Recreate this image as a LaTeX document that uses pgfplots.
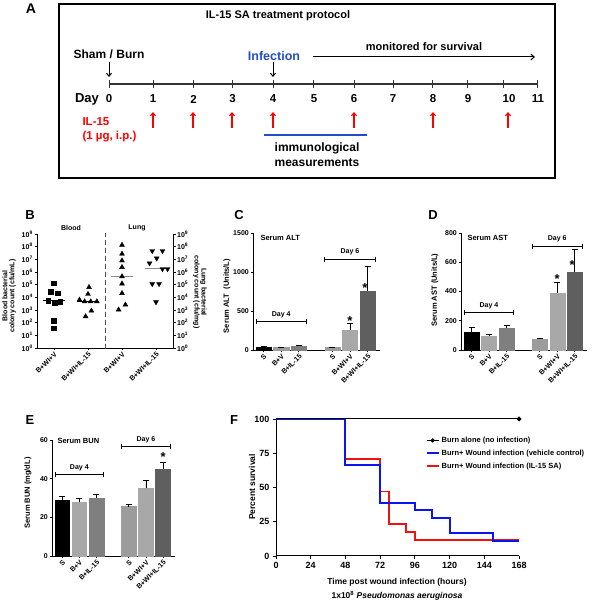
\documentclass[border=0pt]{standalone}
\usepackage{pgfplots}
\pgfplotsset{compat=1.18}
\usepackage{fontspec}
\setmainfont{Liberation Sans}
\usetikzlibrary{arrows.meta}

\definecolor{infblue}{HTML}{1F4FC8}
\definecolor{survblue}{HTML}{0A14F0}
\definecolor{survred}{HTML}{F01010}
\definecolor{gLight}{HTML}{A8A8A8}
\definecolor{gSham}{HTML}{9C9C9C}
\definecolor{gMid}{HTML}{7F7F7F}
\definecolor{gDark}{HTML}{5F5F5F}

\newcommand{\fs}[1]{\fontsize{#1}{#1}\selectfont\bfseries}
% one bar with an upward error bar: colour, position, mean, error
\newcommand{\onebar}[4]{%
  \addplot[ybar, bar width=0.86, fill=#1, draw=#1,
    error bars/.cd, y dir=plus, y explicit,
    error bar style={black, line width=0.8pt},
    error mark options={black, rotate=90, mark size=3pt, line width=0.8pt}]
    coordinates {(#2,#3) +- (0,#4)};}
% day bracket: x0, x1, y, text
\newcommand{\dayline}[4]{%
  \draw[line width=0.9pt, {Bar[width=5pt]}-{Bar[width=5pt]}] (axis cs:#1,#3) -- (axis cs:#2,#3)
    node[midway, above=0pt, font=\fs{7}] {#4};}

\pgfplotsset{
  /pgf/number format/assume math mode=true,
  /pgf/number format/1000 sep={},
  barpanel/.style={
    scale only axis, anchor=south west,
    axis x line*=bottom, axis y line*=left,
    xmin=-0.6, xmax=6.6, ymin=0,
    xtick={0,1,2,3.9,4.9,5.9},
    xticklabels={S,B+V,B+IL-15,S,B+WI+V,B+WI+IL-15},
    x tick label style={rotate=45, anchor=north east, font=\fs{7}, inner sep=0.5pt},
    y tick label style={font=\fs{7}, inner sep=1.5pt},
    tick align=outside, major tick length=2.5pt,
    every tick/.style={black, line width=0.8pt},
    axis line style={line width=0.9pt},
    clip=false,
  },
}

\begin{document}
\begin{tikzpicture}
\fill[white] (0pt,0pt) rectangle (604pt,601pt);
\path[use as bounding box] (0pt,0pt) rectangle (604pt,601pt);

% ---------- panel A (pixel coordinates, y downwards) ----------
\begin{scope}[x=1pt,y=-1pt,shift={(0pt,601pt)}]
\draw[line width=1.8pt] (59,4) rectangle (555,178);
\node[font=\fs{14}] at (31,9) {A};
\node[font=\fs{11}] at (278,16) {IL-15 SA treatment protocol};
\node[font=\fs{12}] at (109,54) {Sham / Burn};
\draw[line width=1pt,-{Straight Barb[length=3pt,width=5pt]}] (109,62) -- (109,77);
\node[font=\fs{12.5},text=infblue] at (274,56) {Infection};
\draw[line width=1pt,-{Straight Barb[length=3pt,width=5pt]}] (273,62) -- (273,77);
\node[font=\fs{11}] at (424,47) {monitored for survival};
\draw[line width=1pt,-{Straight Barb[length=3.5pt,width=6pt]}] (313,57) -- (535,57);
\draw[line width=1.3pt,black!80] (109,84) -- (537,84);
\foreach \x in {109,153,193,232,273,313,354,393,432,467,503,537}
  \draw[line width=1pt,black!80] (\x,80) -- (\x,88);
\node[font=\fs{13}] at (87,99) {Day};
\foreach \x/\lab in {109/0,153/1,193.5/2,232.5/3,273/4,314/5,354/6,393/7,433/8,468/9,509/10,538/11}
  \node[font=\fs{11.5}] at (\x,99) {\lab};
\foreach \x in {153,193,232,273,354,433,508}
  \draw[red,line width=1.1pt,-{Straight Barb[length=3pt,width=5pt]}] (\x,128) -- (\x,112);
\node[font=\fs{11.5},text=red,anchor=west] at (79,122) {IL-15};
\node[font=\fs{11.5},text=red,anchor=west] at (79,137) {(1 µg, i.p.)};
\draw[infblue,line width=1.5pt] (264,135) -- (367,135);
\node[font=\fs{12}] at (317,148) {immunological};
\node[font=\fs{12}] at (317,163) {measurements};
\end{scope}

% ---------- panel B ----------
\begin{axis}[scale only axis, anchor=south west, at={(37pt,253pt)},
  width=136pt, height=114pt,
  ymode=log, ymin=1, ymax=1e9, xmin=0.5, xmax=4.5,
  axis x line*=bottom, axis y line*=left, yminorticks=false,
  ytick={1,1e1,1e2,1e3,1e4,1e5,1e6,1e7,1e8,1e9},
  yticklabels={10\textsuperscript{0},10\textsuperscript{1},10\textsuperscript{2},10\textsuperscript{3},10\textsuperscript{4},10\textsuperscript{5},10\textsuperscript{6},10\textsuperscript{7},10\textsuperscript{8},10\textsuperscript{9}},
  xtick={1,2,3,4},
  xticklabels={B+WI+V,B+WI+IL-15,B+WI+V,B+WI+IL-15},
  x tick label style={rotate=45, anchor=north east, font=\fs{7}, inner sep=0.5pt},
  y tick label style={font=\fs{7}, inner sep=1.5pt},
  tick align=outside, major tick length=2.5pt,
  every tick/.style={black, line width=0.8pt},
  axis line style={line width=0.9pt},
  clip=false]
\addplot[only marks, mark=square*, mark size=2.4pt, black] coordinates {
(0.98,1.3e5) (0.90,2.9e4) (1.10,2.1e4) (0.83,5.6e3) (1.01,3.5e3) (1.18,4.7e3) (0.98,150) (0.98,37)};
\addplot[only marks, mark=triangle*, mark size=2.8pt, black] coordinates {
(2.03,6.3e4) (2.00,1.8e4) (1.75,6.3e3) (1.90,4.7e3) (2.08,4.7e3) (2.26,4.7e3) (2.10,870) (1.93,310)};
\addplot[only marks, mark=triangle*, mark size=2.8pt, black] coordinates {
(3.00,1.35e8) (3.00,2.7e7) (3.00,7.9e6) (3.00,2.4e6) (3.00,4.4e5) (3.00,1.2e5) (3.00,2.1e4) (3.10,2.6e3) (2.90,1.05e3)};
\addplot[only marks, mark=triangle*, mark size=2.8pt, mark options={rotate=180}, black] coordinates {
(3.89,4.6e7) (4.19,4.6e7) (4.02,1.2e7) (3.81,4.9e6) (4.19,1.74e6) (4.34,1.74e6) (3.89,1.15e5) (4.09,1.15e5) (4.00,4.2e3)};
% medians
\addplot[black, line width=1pt] coordinates {(0.68,5.2e3) (1.32,5.2e3)};
\addplot[black, line width=1pt] coordinates {(1.68,4.7e3) (2.32,4.7e3)};
\addplot[black!45, line width=1pt] coordinates {(2.68,4.4e5) (3.32,4.4e5)};
\addplot[black!45, line width=1pt] coordinates {(3.68,2.0e6) (4.32,2.0e6)};
\draw[black!70, line width=1pt, dash pattern=on 5pt off 3pt] (axis cs:2.5,0.85) -- (axis cs:2.5,1.2e9);
\end{axis}
\begin{axis}[scale only axis, anchor=south west, at={(37pt,253pt)},
  width=136pt, height=114pt,
  ymode=log, ymin=1, ymax=1e9, xmin=0.5, xmax=4.5,
  axis x line=none, axis y line*=right, yminorticks=false,
  ytick={1,1e1,1e2,1e3,1e4,1e5,1e6,1e7,1e8,1e9},
  yticklabels={10\textsuperscript{0},10\textsuperscript{1},10\textsuperscript{2},10\textsuperscript{3},10\textsuperscript{4},10\textsuperscript{5},10\textsuperscript{6},10\textsuperscript{7},10\textsuperscript{8},10\textsuperscript{9}},
  y tick label style={font=\fs{7}, inner sep=1.5pt},
  tick align=outside, major tick length=2.5pt,
  every tick/.style={black, line width=0.8pt},
  axis line style={line width=0.9pt}]
\end{axis}

% ---------- panel C ----------
\begin{axis}[barpanel, at={(253pt,251pt)}, width=127pt, height=117pt,
  ymax=1500, ytick={0,500,1000,1500}]
\onebar{black}{0}{40}{8}
\onebar{gSham}{1}{30}{5}
\onebar{gMid}{2}{50}{8}
\onebar{gSham}{3.9}{30}{5}
\onebar{gLight}{4.9}{250}{90}
\onebar{gDark}{5.9}{760}{315}
\dayline{-0.45}{2.45}{360}{Day 4}
\dayline{3.45}{6.35}{1165}{Day 6}
\node[font=\fs{13}] at (axis cs:4.9,370) {*};
\node[font=\fs{13}] at (axis cs:5.75,790) {*};
\end{axis}

% ---------- panel D ----------
\begin{axis}[barpanel, at={(461pt,251pt)}, width=126pt, height=117pt,
  ymax=800, ytick={0,200,400,600,800}]
\onebar{black}{0}{125}{30}
\onebar{gLight}{1}{97}{13}
\onebar{gMid}{2}{150}{15}
\onebar{gSham}{3.9}{77}{3}
\onebar{gLight}{4.9}{390}{70}
\onebar{gDark}{5.9}{535}{150}
\dayline{-0.45}{2.45}{255}{Day 4}
\dayline{3.45}{6.35}{710}{Day 6}
\node[font=\fs{13}] at (axis cs:4.9,485) {*};
\node[font=\fs{13}] at (axis cs:5.75,580) {*};
\end{axis}

% ---------- panel E ----------
\begin{axis}[barpanel, at={(52pt,45pt)}, width=123pt, height=116pt,
  ymax=60, ytick={0,20,40,60}]
\onebar{black}{0}{29}{2}
\onebar{gLight}{1}{28}{2}
\onebar{gMid}{2}{30}{2}
\onebar{gSham}{3.9}{25.5}{1}
\onebar{gLight}{4.9}{35}{4}
\onebar{gDark}{5.9}{45}{3.5}
\dayline{-0.45}{2.45}{42}{Day 4}
\dayline{3.45}{6.35}{56.5}{Day 6}
\node[font=\fs{13}] at (axis cs:5.9,51) {*};
\end{axis}

% ---------- panel F ----------
\begin{axis}[scale only axis, anchor=south west, at={(276pt,45pt)},
  width=243pt, height=137pt,
  xmin=0, xmax=168, ymin=0, ymax=100,
  axis x line*=bottom, axis y line*=left,
  xtick={0,24,48,72,96,120,144,168}, ytick={0,25,50,75,100},
  tick label style={font=\fs{9}},
  tick align=outside, major tick length=3pt,
  every tick/.style={black, line width=0.9pt},
  axis line style={line width=1pt},
  clip=false,
  legend style={at={(0.615,0.885)}, anchor=north west, draw=none, fill=none,
    font=\fs{7.5}, row sep=2pt, inner sep=0pt},
  legend cell align=left,
  legend image code/.code={\draw[mark repeat=2,mark phase=2,#1]
    plot coordinates {(0pt,0pt) (6pt,0pt) (12pt,0pt)};}]
\addlegendimage{black, line width=1pt, mark=*, mark size=1.6pt}
\addlegendentry{Burn alone (no infection)}
\addlegendimage{survblue, line width=2pt}
\addlegendentry{Burn+ Wound infection (vehicle control)}
\addlegendimage{survred, line width=2pt}
\addlegendentry{Burn+ Wound infection (IL-15 SA)}
\addplot[survred, line width=1.9pt, const plot, forget plot] coordinates {
(0,100) (48,70.6) (72,47.1) (78,23.5) (90,17.6) (96,11.8) (168,11.8)};
\addplot[survblue, line width=1.9pt, const plot, forget plot] coordinates {
(0,100) (48,66.7) (72,38.9) (96,33.3) (108,27.8) (120,16.7) (150,11.1) (168,11.1)};
\addplot[black, line width=1pt, mark=*, mark size=1.8pt, mark indices={2}, forget plot] coordinates {
(0,100) (168,100)};
\end{axis}

% ---------- labels (pixel coordinates, y downwards) ----------
\begin{scope}[x=1pt,y=-1pt,shift={(0pt,601pt)}]
\node[font=\fs{13}] at (30,215) {B};
\node[font=\fs{13}] at (239,215) {C};
\node[font=\fs{13}] at (433,215) {D};
\node[font=\fs{13}] at (30,420) {E};
\node[font=\fs{13}] at (234,420) {F};
\node[font=\fs{7}] at (71,228) {Blood};
\node[font=\fs{7}] at (137,228) {Lung};
\node[font=\fs{7}, rotate=90, align=center] at (9,296) {Blood bacterial\\colony count (cfu/mL)};
\node[font=\fs{7}, rotate=-90, align=center] at (200,292) {Lung bacterial\\colony count (cfu/mg)};
\node[font=\fs{7.5}, rotate=90] at (227,296) {Serum ALT\ \ (Units/L)};
\node[font=\fs{7.5}] [anchor=west] at (257,238) {Serum ALT};
\node[font=\fs{7.5}, rotate=90] at (435,290) {Serum AST (Units/L)};
\node[font=\fs{7.5}] [anchor=west] at (464,238) {Serum AST};
\node[font=\fs{7.5}, rotate=90] at (28,493) {Serum BUN (mg/dL)};
\node[font=\fs{7.5}] [anchor=west] at (54,441) {Serum BUN};
\node[font=\fs{8.5}, rotate=90] at (252,487) {Percent survival};
\node[font=\fs{8.5}] at (397,582) {Time post wound infection (hours)};
\node[font=\fs{8.5}] at (397,596) {1x10\textsuperscript{8} \textit{Pseudomonas aeruginosa}};
\end{scope}
\end{tikzpicture}
\end{document}
